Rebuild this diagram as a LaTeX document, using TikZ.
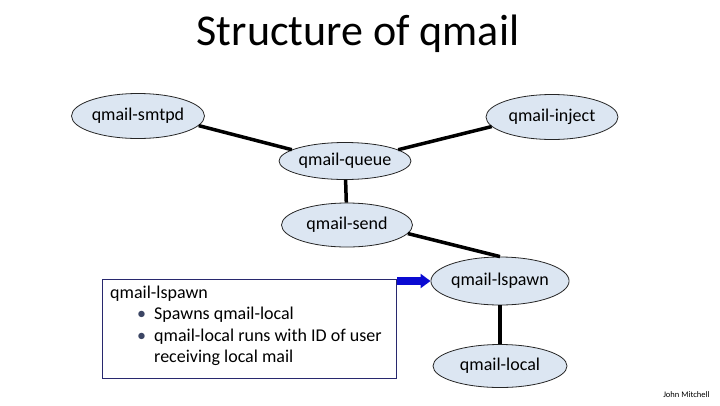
\documentclass[tikz,border=0pt]{standalone}
\usepackage{fontspec}
\setmainfont{Carlito}
\usetikzlibrary{shapes.geometric,arrows.meta}
\definecolor{ellfill}{RGB}{220,230,242}
\definecolor{boxnavy}{RGB}{40,40,110}
\definecolor{bulc}{RGB}{60,70,100}
\definecolor{arrblue}{RGB}{10,10,210}
\begin{document}
\begin{tikzpicture}[x=1pt,y=-1pt,
  proc/.style={ellipse,draw=black!85,line width=0.8pt,fill=ellfill,inner sep=0pt,
    font=\fontsize{18}{21.5}\selectfont},
  link/.style={line width=3.5pt,black},
  bigarrow/.style={line width=8pt,arrblue,-{Triangle[length=10pt,width=14pt]}}]
\useasboundingbox (0,0) rectangle (720,405);
\node[anchor=base,font=\fontsize{44}{50}\selectfont] (title) at (358,45) {Structure of qmail};
\node[proc,minimum width=133pt,minimum height=45pt] (smtpd) at (138,116) {qmail-smtpd};
\node[proc,minimum width=132pt,minimum height=45pt] (inject) at (552,117) {qmail-inject};
\node[proc,minimum width=132pt,minimum height=37pt] (queue) at (345,161) {qmail-queue};
\node[proc,minimum width=131pt,minimum height=44pt] (send) at (347,225) {qmail-send};
\node[proc,minimum width=135pt,minimum height=48pt] (lspawn) at (500,281) {qmail-lspawn};
\node[proc,minimum width=134pt,minimum height=43pt] (local) at (500,366) {qmail-local};
\draw[link] (smtpd.-9) -- (queue.168);
\draw[link] (inject.-171) -- (queue.12);
\draw[link] (queue) -- (send);
\draw[link] (send.-8) -- (lspawn.north);
\draw[link] (lspawn) -- (local);
\node[draw=boxnavy,line width=1pt,minimum width=294pt,minimum height=99pt,anchor=north west,inner sep=0pt] (box) at (102,279) {};
\node[anchor=north west,inner sep=0pt,align=left,font=\fontsize{18}{21.5}\selectfont] (boxtext) at (110,283) {%
\begin{tabular}{@{}p{27pt}@{}p{17pt}@{}l@{}}
\multicolumn{3}{@{}l@{}}{qmail-lspawn}\\
& \textcolor{bulc}{•} & Spawns qmail-local\\
& \textcolor{bulc}{•} & qmail-local runs with ID of user\\
& & receiving local mail
\end{tabular}};
\draw[bigarrow] (box.north east |- lspawn.west) -- (lspawn.west);
\node[anchor=base east,font=\fontsize{8.5}{10}\selectfont] (author) at (713,397) {John Mitchell};
\end{tikzpicture}
\end{document}
